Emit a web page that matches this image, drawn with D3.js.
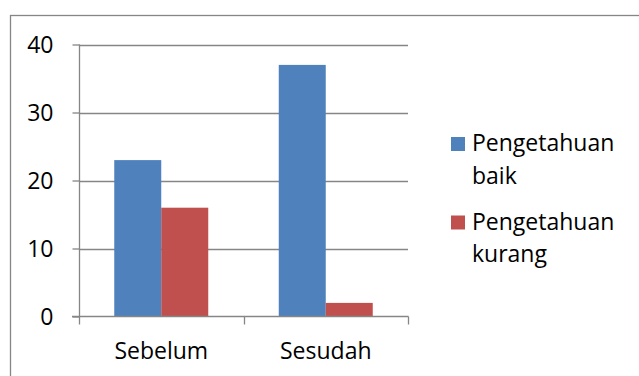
<!DOCTYPE html>
<html>
<head>
<meta charset="utf-8">
<script src="https://cdn.jsdelivr.net/npm/d3@7"></script>
<style>
  html, body { margin: 0; padding: 0; background: #fff; }
  svg { display: block; }
  text { font-family: "Open Sans", "Noto Sans", sans-serif; fill: #000; }
</style>
</head>
<body>
<svg id="chart" width="639" height="376"></svg>
<script>
// Data
const categories = ["Sebelum", "Sesudah"];
const seriesNames = ["Pengetahuan baik", "Pengetahuan kurang"];
const legendLines = [["Pengetahuan", "baik"], ["Pengetahuan", "kurang"]];
const baikValues = [23, 37];
const kurangValues = [16, 2];
const yTicks = [0, 10, 20, 30, 40];
const seriesColors = ["#4F81BD", "#C0504D"];

const seriesValues = [baikValues, kurangValues];
const rows = categories.map((c, i) => ({
  cat: c,
  vals: seriesNames.map((s, j) => ({ key: s, value: seriesValues[j][i], color: seriesColors[j] }))
}));

const svg = d3.select("#chart");
const gray = "#868686";
const fontSize = "23px";

// Outer frame
svg.append("rect")
  .attr("x", 10.5).attr("y", 15.5)
  .attr("width", 640).attr("height", 400)
  .attr("fill", "none").attr("stroke", gray).attr("stroke-width", 1.3);

const plot = { left: 79, right: 408, top: 44.5, bottom: 316.5 };

const y = d3.scaleLinear().domain([0, 40]).range([plot.bottom, plot.top]);
const x0 = d3.scaleBand().domain(categories).range([plot.left, plot.right]).padding(0);
const x1 = d3.scaleBand().domain(seriesNames).range([0, x0.bandwidth()])
  .paddingInner(0).paddingOuter(0.75);

// Gridlines
svg.append("g")
  .selectAll("line")
  .data(yTicks.filter(t => t > 0))
  .join("line")
  .attr("x1", plot.left).attr("x2", plot.right)
  .attr("y1", d => Math.round(y(d)) + 0.5).attr("y2", d => Math.round(y(d)) + 0.5)
  .attr("stroke", gray).attr("stroke-width", 1.3);

// Bars
const groups = svg.append("g")
  .selectAll("g")
  .data(rows)
  .join("g")
  .attr("transform", d => `translate(${x0(d.cat)},0)`);

groups.selectAll("rect")
  .data(d => d.vals)
  .join("rect")
  .attr("x", d => x1(d.key))
  .attr("width", x1.bandwidth())
  .attr("y", d => y(d.value))
  .attr("height", d => y(0) - y(d.value))
  .attr("fill", d => d.color);

// Y axis
const yAxis = svg.append("g")
  .attr("transform", `translate(${plot.left + 0.5},0)`)
  .call(d3.axisLeft(y).tickValues(yTicks).tickSize(7).tickPadding(19).tickFormat(d3.format("d")));
yAxis.select(".domain").attr("stroke", gray).attr("stroke-width", 1.3)
  .attr("d", `M0,${plot.top}V${plot.bottom}`);
yAxis.selectAll(".tick line").attr("stroke", gray).attr("stroke-width", 1.3);
yAxis.selectAll(".tick text")
  .style("font-size", fontSize).attr("fill", "#000")
  .attr("dy", "0.36em");

// X axis
const xAxis = svg.append("g")
  .attr("transform", `translate(0,${plot.bottom})`)
  .call(d3.axisBottom(x0).tickSize(0).tickPadding(0));
xAxis.select(".domain").remove();
xAxis.selectAll(".tick text").remove();
svg.append("line")
  .attr("x1", plot.left - 7).attr("x2", plot.right + 0.5)
  .attr("y1", plot.bottom).attr("y2", plot.bottom)
  .attr("stroke", gray).attr("stroke-width", 1.3);
const xBounds = [plot.left, plot.left + x0.step(), plot.right];
svg.append("g").selectAll("line")
  .data(xBounds)
  .join("line")
  .attr("x1", d => Math.round(d) + 0.5).attr("x2", d => Math.round(d) + 0.5)
  .attr("y1", plot.bottom).attr("y2", plot.bottom + 8)
  .attr("stroke", gray).attr("stroke-width", 1.3);
svg.append("g").selectAll("text")
  .data(categories)
  .join("text")
  .attr("x", d => x0(d) + x0.bandwidth() / 2)
  .attr("y", 359)
  .attr("text-anchor", "middle")
  .style("font-size", fontSize)
  .text(d => d);

// Legend
const legend = svg.append("g");
const entries = legend.selectAll("g")
  .data(seriesNames)
  .join("g")
  .attr("transform", (d, i) => `translate(451,${137 + i * 78.5})`);
entries.append("rect")
  .attr("width", 14).attr("height", 14)
  .attr("fill", (d, i) => seriesColors[i]);
entries.append("text")
  .style("font-size", fontSize)
  .selectAll("tspan")
  .data((d, i) => legendLines[i])
  .join("tspan")
  .attr("x", 21)
  .attr("y", (d, k) => 14 + k * 32.5)
  .text(d => d);
</script>
</body>
</html>
